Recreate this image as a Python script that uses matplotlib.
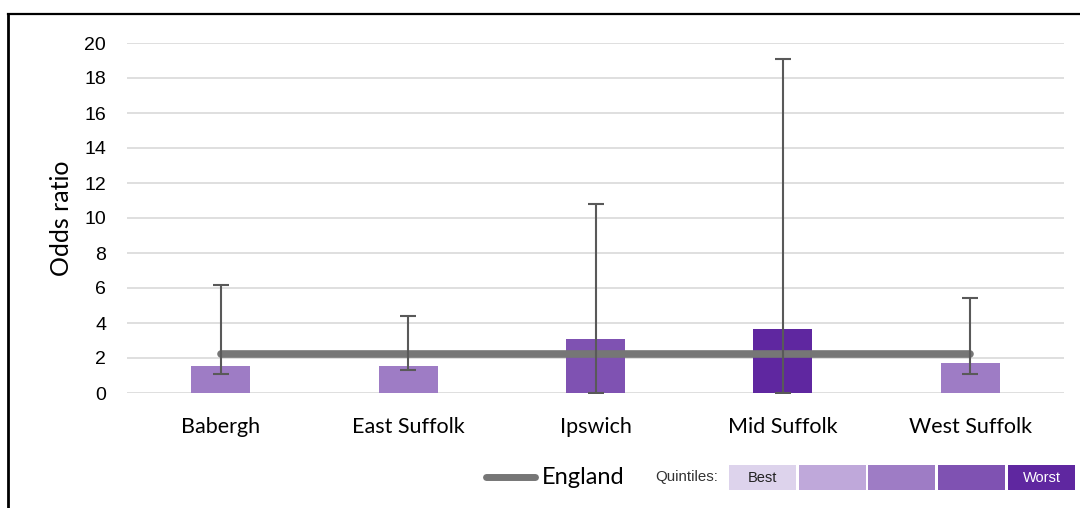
import matplotlib
matplotlib.use("Agg")
import matplotlib.pyplot as plt
from matplotlib.lines import Line2D
from matplotlib.patches import Rectangle

areas = ["Babergh", "East Suffolk", "Ipswich", "Mid Suffolk", "West Suffolk"]
odds = [1.55, 1.55, 3.1, 3.65, 1.72]
ci_low = [1.1, 1.32, 0.0, 0.0, 1.1]
ci_high = [6.15, 4.4, 10.8, 19.1, 5.42]
quintile = [3, 3, 4, 5, 3]
england = [2.25, 2.25, 2.25, 2.25, 2.25]
yticks = [0, 2, 4, 6, 8, 10, 12, 14, 16, 18, 20]

q_colors = ["#ddd3ec", "#bfa8da", "#9e7cc5", "#7f52b2", "#5f27a0"]

fig = plt.figure(figsize=(10.8, 5.08), dpi=100)
ax = fig.add_axes([127/1080, 1-393/508, (1064-127)/1080, (393-43)/508])

x = list(range(len(areas)))
ax.bar(x, odds, width=0.315, color=[q_colors[q-1] for q in quintile], zorder=2)
lo = [o - l for o, l in zip(odds, ci_low)]
hi = [h - o for o, h in zip(odds, ci_high)]
ax.errorbar(x, odds, yerr=[lo, hi], fmt="none", ecolor="#595959",
            elinewidth=1.5, capsize=6, capthick=1.5, zorder=4)
ax.plot(x, england, color="#767676", lw=5.5, solid_capstyle="round", zorder=3)

ax.set_xlim(-0.5, 4.5)
ax.set_ylim(0, 20)
ax.set_yticks(yticks)
ax.set_xticks(x)
ax.set_xticklabels(areas, fontsize=15.5, family="Lato")
ax.tick_params(axis="x", length=0, pad=17)
ax.tick_params(axis="y", length=0, pad=15, labelsize=14)
for lab in ax.get_yticklabels():
    lab.set_family("Liberation Sans")
ax.grid(axis="y", color="#d9d9d9", lw=1.2, zorder=0)
ax.set_axisbelow(True)
for s in ax.spines.values():
    s.set_visible(False)
ax.set_ylabel("Odds ratio", fontsize=18, family="Lato", labelpad=8)

# frame
fig.add_artist(Line2D([7.5/1080, 1], [1-14/508, 1-14/508], color="black", lw=1.6,
                      transform=fig.transFigure))
fig.add_artist(Line2D([7.5/1080, 7.5/1080], [0, 1-14/508], color="black", lw=2,
                      transform=fig.transFigure))

# legend
def fx(px):
    return px/1080
def fy(py):
    return 1-py/508

fig.add_artist(Line2D([fx(486), fx(535)], [fy(477), fy(477)], color="#767676",
                      lw=5, solid_capstyle="round", transform=fig.transFigure))
fig.text(fx(542), fy(477), "England", fontsize=17, va="center", ha="left",
         family="Lato")
fig.text(fx(655), fy(477), "Quintiles:", fontsize=10.8, va="center", ha="left",
         family="Liberation Sans", color="#333333")
box_left = [729, 799, 868, 938, 1008]
box_labels = ["Best", "", "", "", "Worst"]
for i, bl in enumerate(box_left):
    fig.add_artist(Rectangle((fx(bl), fy(490)), 67/1080, 25/508,
                             facecolor=q_colors[i], edgecolor="none",
                             transform=fig.transFigure))
    if box_labels[i]:
        fig.text(fx(bl + 33.5), fy(477.5), box_labels[i], fontsize=10.5,
                 va="center", ha="center", family="Liberation Sans",
                 color="#222222" if i == 0 else "white")

fig.savefig("out.png", dpi=100)
